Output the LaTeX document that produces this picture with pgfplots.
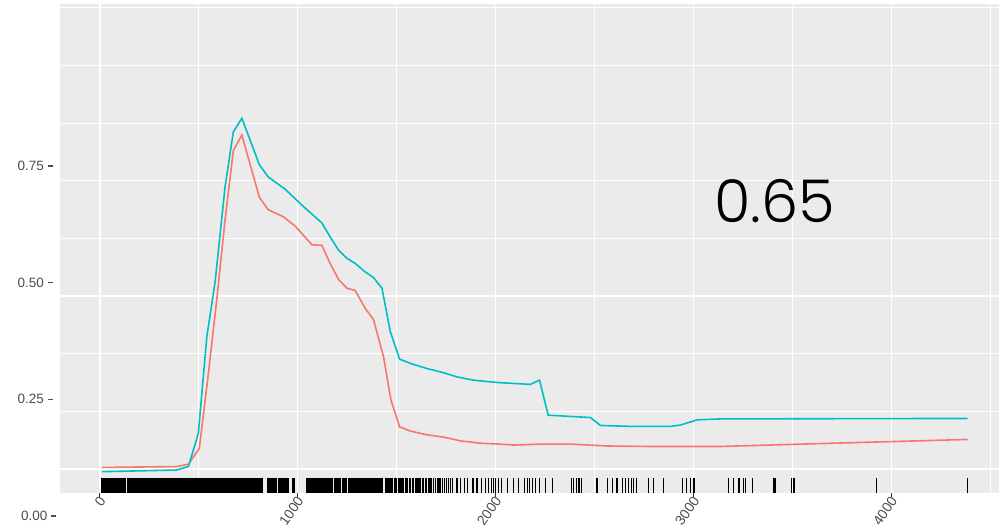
\documentclass[border=0pt]{standalone}
\usepackage{pgfplots}
\pgfplotsset{compat=1.18}
\usepackage{fontspec}
\setmainfont{Liberation Sans}
\newfontfamily\bigfont{Poppins Light}
\definecolor{panelbg}{HTML}{EBEBEB}
\definecolor{ggred}{HTML}{F8766D}
\definecolor{ggcyan}{HTML}{00BFC4}
\definecolor{labgray}{HTML}{4D4D4D}
\definecolor{tickgray}{HTML}{333333}
\newcommand{\tickfont}{\fontsize{13.5bp}{15bp}\selectfont}
\newcommand{\xtickfont}{\fontsize{14bp}{16bp}\selectfont}
\newcommand{\ydash}{\hspace{3.8bp}\rule[4bp]{5bp}{1.3bp}}
\begin{document}
\begin{tikzpicture}
\path (-60bp,-37bp) rectangle (941bp,493bp);
\begin{axis}[
  scale only axis,
  width=939bp, height=489bp,
  xmin=-202, xmax=4543,
  ymin=0.0493, ymax=1.0968,
  clip=false,
  axis line style={draw=none},
  axis background/.style={fill=panelbg},
  /pgf/number format/assume math mode=true,
  /pgf/number format/1000 sep={},
  xtick={0,1000,2000,3000,4000},
  minor xtick={500,1500,2500,3500,4500},
  xtick pos=bottom,
  xmajorgrids, xminorgrids,
  major grid style={white, line width=1.1bp},
  minor grid style={white, line width=1.1bp},
  minor tick length=0pt,
  tick align=outside,
  xtick style={draw=tickgray, line width=1bp},
  major tick length=3.5bp,
  xticklabel style={font=\xtickfont, text=labgray, xshift=2.5bp, yshift=-1.5bp, rotate=55, anchor=east, inner sep=0pt},
  xticklabel={\pgfmathprintnumber[fixed,precision=0]{\tick}},
  ytick={0.25,0.5,0.75},
  ytick pos=left,
  ytick style={draw=none},
  yticklabel={\pgfmathprintnumber[fixed,fixed zerofill,precision=2]{\tick}\ydash},
  yticklabel style={font=\tickfont, text=labgray, anchor=east, inner sep=0pt, xshift=-3.5bp},
  extra y ticks={0.1007,0.2242,0.3477,0.4712,0.5947,0.7182,0.8417,0.9652,1.0887},
  extra y tick labels={},
  extra y tick style={grid=major, major tick length=0pt, ytick style={draw=none}},
]
% rug: dense block
\addplot[only marks, mark=|, mark size=7.5bp, mark options={line width=2.4bp, draw=black}] coordinates {
(12,0.0653)(22,0.0653)(32,0.0653)(42,0.0653)(52,0.0653)(62,0.0653)(72,0.0653)(82,0.0653)(92,0.0653)(102,0.0653)(112,0.0653)(124,0.0653)
(144,0.0653)(154,0.0653)(164,0.0653)(174,0.0653)(184,0.0653)(194,0.0653)(204,0.0653)(214,0.0653)(224,0.0653)(234,0.0653)
(244,0.0653)(254,0.0653)(264,0.0653)(274,0.0653)(284,0.0653)(294,0.0653)(304,0.0653)(314,0.0653)(324,0.0653)(334,0.0653)
(344,0.0653)(354,0.0653)(364,0.0653)(374,0.0653)(384,0.0653)(394,0.0653)(404,0.0653)(414,0.0653)(424,0.0653)(434,0.0653)
(444,0.0653)(454,0.0653)(464,0.0653)(474,0.0653)(484,0.0653)(494,0.0653)(504,0.0653)(514,0.0653)(524,0.0653)(534,0.0653)
(544,0.0653)(554,0.0653)(564,0.0653)(574,0.0653)(584,0.0653)(594,0.0653)(604,0.0653)(614,0.0653)(624,0.0653)(634,0.0653)
(644,0.0653)(654,0.0653)(664,0.0653)(674,0.0653)(684,0.0653)(694,0.0653)(704,0.0653)(714,0.0653)(724,0.0653)(734,0.0653)
(744,0.0653)(754,0.0653)(764,0.0653)(770,0.0653)
};
% rug: individual ticks
\addplot[only marks, mark=|, mark size=7.5bp, mark options={line width=1.2bp, draw=black}] table[row sep=\\] {
x y\\
778 0.0653\\ 784 0.0653\\ 790 0.0653\\ 796 0.0653\\ 802 0.0653\\ 808 0.0653\\ 814 0.0653\\ 820 0.0653\\
845 0.0653\\ 851 0.0653\\ 857 0.0653\\ 863 0.0653\\ 869 0.0653\\ 875 0.0653\\ 881 0.0653\\ 887 0.0653\\ 892 0.0653\\
904 0.0653\\ 910 0.0653\\ 916 0.0653\\ 922 0.0653\\ 928 0.0653\\ 934 0.0653\\ 940 0.0653\\ 945 0.0653\\
953 0.0653\\ 973 0.0653\\ 978 0.0653\\ 983 0.0653\\
1042 0.0653\\ 1047 0.0653\\ 1053 0.0653\\ 1060 0.0653\\ 1066 0.0653\\ 1072 0.0653\\ 1078 0.0653\\ 1085 0.0653\\ 1091 0.0653\\ 1097 0.0653\\
1104 0.0653\\ 1110 0.0653\\ 1117 0.0653\\ 1124 0.0653\\ 1130 0.0653\\ 1137 0.0653\\ 1143 0.0653\\ 1150 0.0653\\ 1157 0.0653\\ 1164 0.0653\\
1171 0.0653\\ 1177 0.0653\\ 1184 0.0653\\ 1191 0.0653\\ 1198 0.0653\\ 1204 0.0653\\ 1211 0.0653\\ 1217 0.0653\\ 1224 0.0653\\ 1231 0.0653\\
1238 0.0653\\ 1246 0.0653\\ 1254 0.0653\\ 1262 0.0653\\
1268 0.0653\\ 1273 0.0653\\ 1278 0.0653\\ 1284 0.0653\\ 1289 0.0653\\ 1294 0.0653\\ 1300 0.0653\\ 1306 0.0653\\ 1311 0.0653\\ 1317 0.0653\\
1322 0.0653\\ 1328 0.0653\\ 1334 0.0653\\ 1339 0.0653\\ 1345 0.0653\\ 1351 0.0653\\ 1356 0.0653\\ 1362 0.0653\\ 1368 0.0653\\ 1374 0.0653\\
1380 0.0653\\ 1386 0.0653\\ 1392 0.0653\\ 1398 0.0653\\ 1404 0.0653\\ 1410 0.0653\\ 1416 0.0653\\ 1422 0.0653\\ 1428 0.0653\\
1443 0.0653\\ 1449 0.0653\\ 1455 0.0653\\ 1461 0.0653\\ 1468 0.0653\\ 1474 0.0653\\ 1480 0.0653\\ 1487 0.0653\\ 1493 0.0653\\ 1500 0.0653\\
1507 0.0653\\ 1514 0.0653\\ 1521 0.0653\\ 1528 0.0653\\ 1535 0.0653\\ 1542 0.0653\\ 1549 0.0653\\ 1556 0.0653\\ 1563 0.0653\\ 1570 0.0653\\
1578 0.0653\\ 1586 0.0653\\ 1594 0.0653\\ 1602 0.0653\\ 1610 0.0653\\ 1617 0.0653\\
1628 0.0653\\ 1636 0.0653\\ 1644 0.0653\\ 1652 0.0653\\ 1660 0.0653\\ 1668 0.0653\\ 1677 0.0653\\ 1686 0.0653\\ 1695 0.0653\\ 1704 0.0653\\
1713 0.0653\\ 1722 0.0653\\ 1731 0.0653\\ 1741 0.0653\\ 1751 0.0653\\ 1761 0.0653\\ 1771 0.0653\\ 1782 0.0653\\
1804 0.0653\\ 1821 0.0653\\ 1843 0.0653\\ 1858 0.0653\\ 1885 0.0653\\ 1905 0.0653\\ 1926 0.0653\\ 1947 0.0653\\ 1964 0.0653\\ 1978 0.0653\\
1989 0.0653\\ 1998 0.0653\\ 2015 0.0653\\ 2030 0.0653\\ 2060 0.0653\\ 2091 0.0653\\ 2116 0.0653\\ 2145 0.0653\\ 2159 0.0653\\ 2172 0.0653\\
2184 0.0653\\ 2201 0.0653\\ 2223 0.0653\\ 2251 0.0653\\ 2285 0.0653\\ 2381 0.0653\\ 2394 0.0653\\ 2408 0.0653\\ 2421 0.0653\\ 2433 0.0653\\
2512 0.0653\\ 2563 0.0653\\ 2588 0.0653\\ 2613 0.0653\\ 2639 0.0653\\ 2656 0.0653\\ 2672 0.0653\\ 2684 0.0653\\ 2697 0.0653\\ 2711 0.0653\\
2773 0.0653\\ 2799 0.0653\\ 2849 0.0653\\ 2942 0.0653\\ 2964 0.0653\\ 2984 0.0653\\ 2998 0.0653\\ 3005 0.0653\\ 3178 0.0653\\ 3203 0.0653\\
3229 0.0653\\ 3251 0.0653\\ 3262 0.0653\\ 3296 0.0653\\ 3406 0.0653\\ 3414 0.0653\\ 3495 0.0653\\ 3507 0.0653\\ 3925 0.0653\\ 4384 0.0653\\
};
% red series
\addplot[ggred, line width=1.6bp, no marks] coordinates {
(10,0.104)(388,0.106)(447,0.111)(502,0.145)(548,0.306)(590,0.463)(632,0.634)(674,0.783)(717,0.816)
(806,0.682)(851,0.656)(927,0.641)(986,0.621)(1012,0.609)(1071,0.581)(1121,0.580)(1163,0.541)(1205,0.507)
(1248,0.488)(1290,0.483)(1340,0.445)(1382,0.421)(1433,0.341)(1470,0.249)(1514,0.191)(1568,0.182)(1652,0.174)
(1736,0.169)(1821,0.161)(1922,0.156)(2023,0.154)(2091,0.152)(2226,0.154)(2377,0.154)(2563,0.150)(2765,0.149)
(3136,0.149)(3708,0.156)(4384,0.164)
};
% cyan series
\addplot[ggcyan, line width=1.6bp, no marks] coordinates {
(10,0.095)(388,0.0985)(447,0.106)(497,0.177)(540,0.384)(582,0.502)(632,0.705)(674,0.823)(717,0.852)
(806,0.752)(851,0.726)(936,0.700)(1028,0.663)(1121,0.628)(1163,0.598)(1205,0.570)(1248,0.552)(1290,0.541)
(1340,0.523)(1382,0.511)(1425,0.488)(1467,0.395)(1514,0.336)(1568,0.327)(1652,0.316)(1736,0.307)(1804,0.298)
(1888,0.291)(2007,0.286)(2175,0.282)(2221,0.291)(2265,0.216)(2478,0.211)(2529,0.194)(2681,0.192)(2883,0.192)
(2934,0.195)(3018,0.206)(3136,0.208)(4384,0.209)
};
\node[anchor=east, inner sep=0pt, font=\tickfont, text=labgray, xshift=-3.5bp] at (axis cs:-202,0) {0.00\ydash};
\node[inner sep=0pt, font=\bigfont\fontsize{59bp}{65bp}\selectfont, text=black] at (axis cs:3408,0.6748) {0.65};
\end{axis}
\end{tikzpicture}
\end{document}
